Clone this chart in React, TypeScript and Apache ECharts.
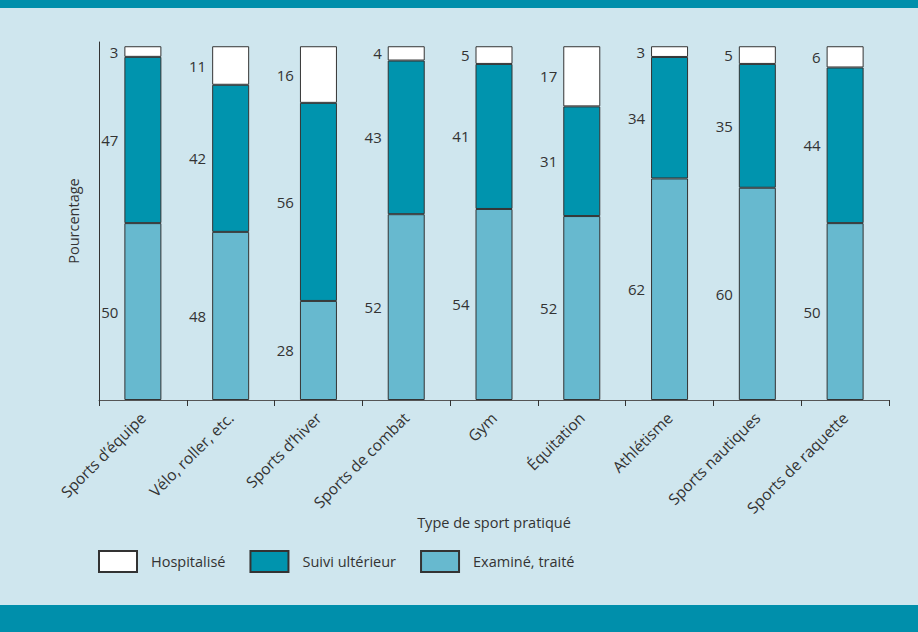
import React, { useEffect, useRef } from "react";
import * as echarts from "echarts";

const categories = [
  "Sports d’équipe",
  "Vélo, roller, etc.",
  "Sports d’hiver",
  "Sports de combat",
  "Gym",
  "Équitation",
  "Athlétisme",
  "Sports nautiques",
  "Sports de raquette",
];
const examine = [50, 48, 28, 52, 54, 52, 62, 60, 50];
const suivi = [47, 42, 56, 43, 41, 31, 34, 35, 44];
const hospitalise = [3, 11, 16, 4, 5, 17, 3, 5, 6];

const FONT = "Open Sans";
const TXT = "#333333";

export default function App() {
  const ref = useRef<HTMLDivElement>(null);
  useEffect(() => {
    if (!ref.current) return;
    const chart = echarts.init(ref.current, null, { renderer: "svg" });
    const totals = categories.map((_, i) => examine[i] + suivi[i] + hospitalise[i]);
    const mk = (name: string, raw: number[], color: string) => ({
      name,
      type: "bar",
      stack: "total",
      data: raw.map((v, i) => (v / totals[i]) * 100),
      barWidth: 37,
      itemStyle: { color, borderColor: "#333", borderWidth: 1 },
      label: {
        show: true,
        position: "left",
        distance: 6,
        color: TXT,
        fontSize: 15,
        fontFamily: FONT,
        formatter: (p: any) => String(raw[p.dataIndex]),
      },
    });
    chart.setOption({
      animation: false,
      backgroundColor: "#cfe6ee",
      textStyle: { fontFamily: FONT },
      graphic: [
        { type: "rect", left: 0, top: 0, shape: { width: 918, height: 8 }, style: { fill: "#008fab" } },
        { type: "rect", left: 0, top: 605, shape: { width: 918, height: 27 }, style: { fill: "#008fab" } },
      ],
      grid: { left: 99, right: 29, top: 42, bottom: 232 },
      legend: {
        left: 93,
        top: 545,
        icon: "rect",
        itemWidth: 38,
        itemHeight: 21,
        itemGap: 24,
        data: ["Hospitalisé", "Suivi ultérieur", "Examiné, traité"],
        textStyle: { color: TXT, fontSize: 14.5, fontFamily: FONT, padding: [0, 0, 0, 9] },
      },
      xAxis: {
        type: "category",
        data: categories,
        name: "Type de sport pratiqué",
        nameLocation: "middle",
        nameGap: 115,
        nameMoveOverlap: false,
        nameTextStyle: { color: TXT, fontSize: 14.5, fontFamily: FONT },
        axisLine: { lineStyle: { color: "#555", width: 1 } },
        axisTick: { show: true, length: 6, lineStyle: { color: "#333" } },
        axisLabel: { rotate: 45, color: TXT, fontSize: 15.5, fontFamily: FONT, margin: 15, interval: 0 },
      },
      yAxis: {
        type: "value",
        min: 0,
        max: 101.2,
        name: "Pourcentage",
        nameLocation: "middle",
        nameGap: 18,
        nameRotate: 90,
        nameTextStyle: { color: TXT, fontSize: 14.5, fontFamily: FONT },
        axisLine: { show: true, lineStyle: { color: "#333", width: 1 } },
        axisTick: { show: false },
        axisLabel: { show: false },
        splitLine: { show: false },
      },
      series: [
        mk("Examiné, traité", examine, "#67b9cf"),
        mk("Suivi ultérieur", suivi, "#0094ae"),
        mk("Hospitalisé", hospitalise, "#ffffff"),
      ],
    });
    return () => chart.dispose();
  }, []);
  return (
    <div
      ref={ref}
      style={{ position: "absolute", left: 0, top: 0, width: 918, height: 632 }}
    />
  );
}
